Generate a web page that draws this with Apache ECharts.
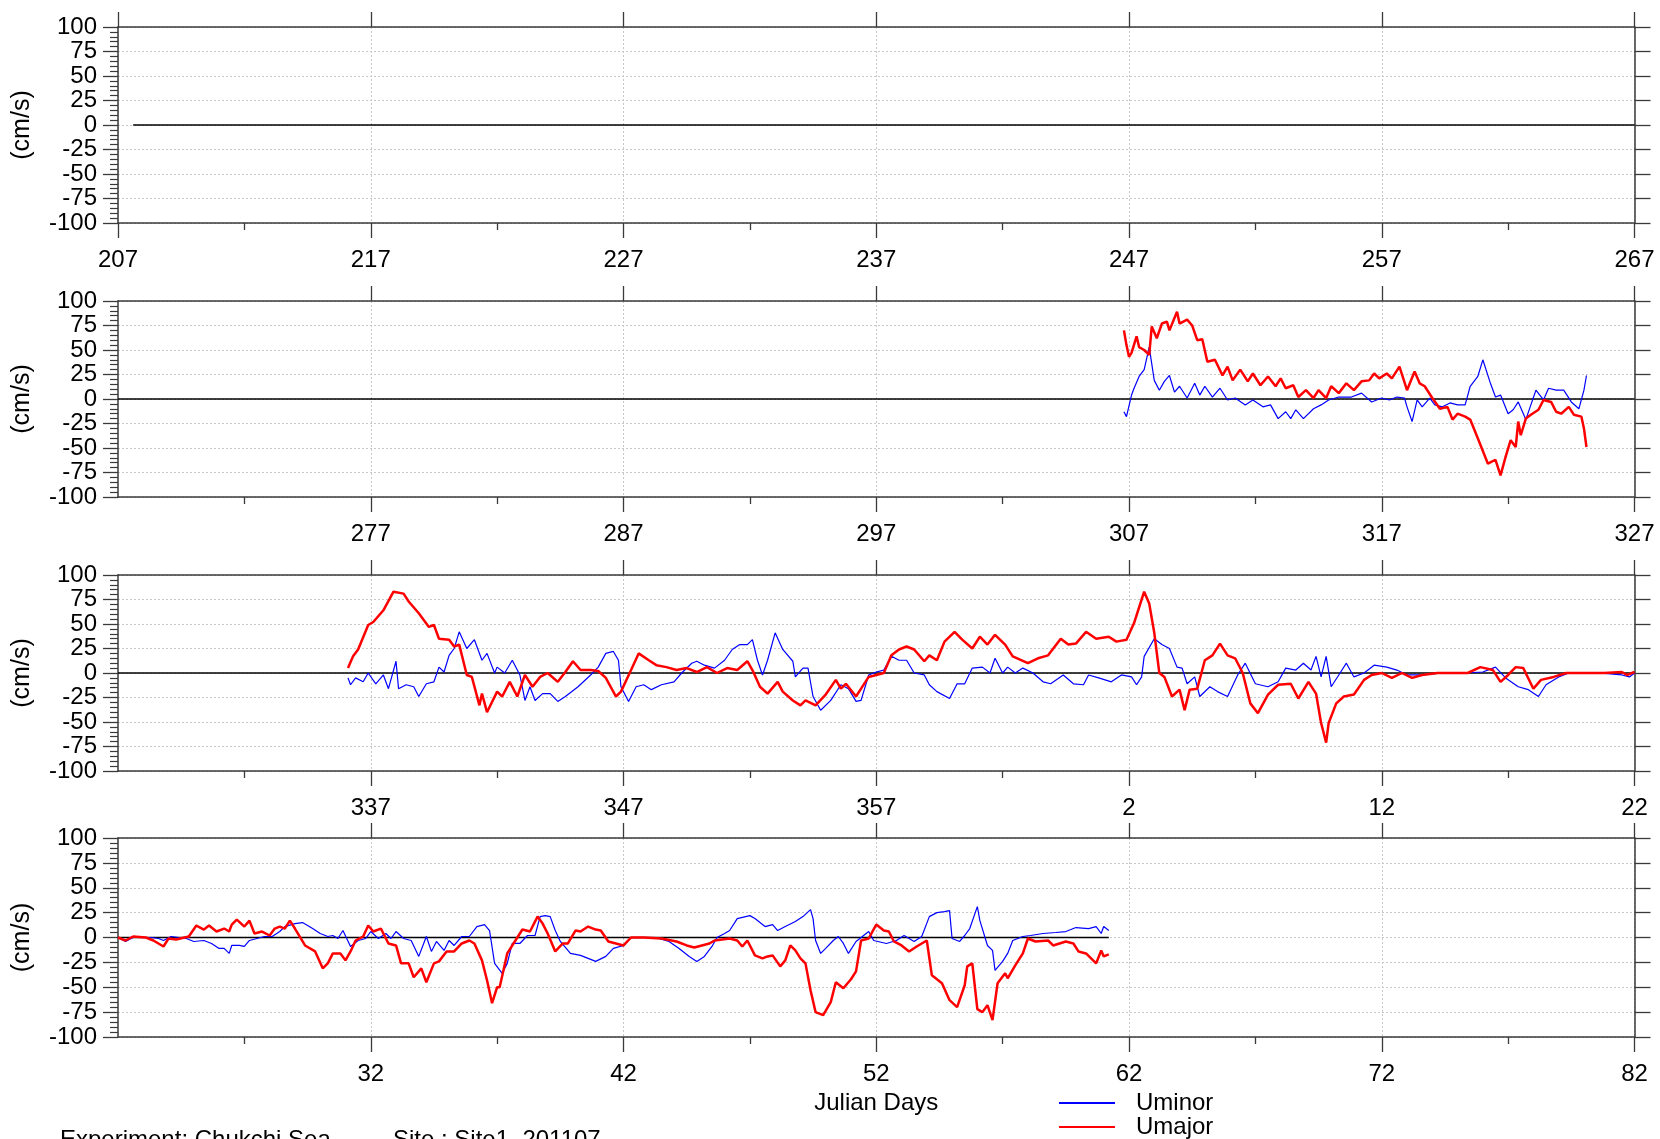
<!DOCTYPE html>
<html>
<head>
<meta charset="utf-8">
<script src="https://cdn.jsdelivr.net/npm/echarts@6/dist/echarts.min.js"></script>
<style>html,body{margin:0;padding:0;background:#fff}#chart{width:1660px;height:1139px}</style>
</head>
<body>
<div id="chart"></div>
<script>
// ---------- data ----------
// Panel start days (Julian day of the first year; panel 4 starts on day 22 of the next year)
const panelStartDays = [207, 267, 327, 22];
const panelYearOffset = [0, 0, 0, 365];
const panelSpanDays = 60;
const majorTickStep = 10;
const yTickStep = 25;
const yMin = -100, yMax = 100;
// zero reference line covers the deployment record
const zeroLineStartDay = 207.6;          // first year
const zeroLineEndDay = 61.2;             // next year
const yearLength = 365;
const seriesNames = ['Uminor', 'Umajor'];

// Panel 2 (days 267-327)
const uminorP2 = [[306.8,-13],[306.9,-18],[307.1,4],[307.2,11],[307.4,23],[307.6,30],[307.8,53],[308.0,19],[308.2,9],[308.4,18],[308.6,24],[308.8,7],[309.0,13],[309.3,1],[309.6,16],[309.8,4],[310.0,13],[310.3,2],[310.6,11],[310.9,-1],[311.2,1],[311.6,-6],[311.9,-1],[312.3,-8],[312.6,-6],[312.9,-20],[313.2,-13],[313.4,-20],[313.6,-11],[313.9,-20],[314.3,-10],[314.6,-6],[314.9,-1],[315.3,2],[315.8,2],[316.2,6],[316.6,-3],[317.0,1],[317.3,-1],[317.6,2],[317.9,1],[318.0,-8],[318.2,-23],[318.4,-1],[318.6,-8],[318.9,1],[319.1,-6],[319.4,-8],[319.7,-4],[320.0,-6],[320.3,-6],[320.5,13],[320.8,23],[321.0,40],[321.3,16],[321.5,2],[321.7,4],[322.0,-15],[322.2,-11],[322.4,-3],[322.7,-21],[322.9,-6],[323.1,9],[323.4,-1],[323.6,11],[323.9,9],[324.2,9],[324.5,-3],[324.8,-10],[325.0,9],[325.1,24]];
const umajorP2 = [[306.8,70],[306.9,55],[307.0,43],[307.1,47],[307.3,64],[307.4,53],[307.6,50],[307.8,45],[307.9,74],[308.1,62],[308.3,77],[308.5,79],[308.6,70],[308.9,89],[309.0,77],[309.3,81],[309.5,75],[309.7,60],[309.9,61],[310.1,38],[310.4,40],[310.7,24],[310.9,33],[311.1,19],[311.4,30],[311.7,18],[311.9,26],[312.2,14],[312.5,23],[312.8,13],[313.0,21],[313.2,11],[313.5,14],[313.7,2],[314.0,9],[314.3,1],[314.5,9],[314.8,1],[315.0,13],[315.3,6],[315.6,16],[315.9,9],[316.2,18],[316.5,19],[316.7,26],[316.9,21],[317.2,26],[317.4,21],[317.7,33],[318.0,9],[318.3,28],[318.5,16],[318.7,13],[319.0,1],[319.3,-10],[319.6,-8],[319.8,-21],[320.0,-15],[320.3,-18],[320.5,-21],[320.8,-40],[321.2,-66],[321.5,-62],[321.7,-78],[321.9,-59],[322.1,-42],[322.3,-49],[322.4,-23],[322.5,-37],[322.7,-20],[322.9,-16],[323.2,-11],[323.4,-1],[323.7,-3],[323.9,-13],[324.1,-15],[324.4,-8],[324.6,-16],[324.9,-18],[325.0,-30],[325.1,-49]];

// Panel 3 (days 327-387, continuing past 365)
const uminorP3 = [[336.1,-5],[336.2,-12],[336.4,-5],[336.7,-9],[336.9,0],[337.2,-11],[337.5,-2],[337.7,-16],[338.0,12],[338.1,-16],[338.4,-12],[338.7,-14],[338.9,-24],[339.2,-11],[339.5,-9],[339.7,6],[339.9,1],[340.1,18],[340.3,25],[340.5,42],[340.8,25],[341.1,34],[341.4,13],[341.6,20],[341.9,0],[342.0,6],[342.3,0],[342.6,13],[342.9,-2],[343.1,-28],[343.3,-14],[343.5,-28],[343.8,-21],[344.1,-21],[344.4,-29],[344.7,-24],[345.2,-14],[345.7,-2],[346.0,6],[346.3,20],[346.6,22],[346.8,13],[346.9,-14],[347.2,-29],[347.5,-14],[347.8,-12],[348.1,-17],[348.5,-12],[349.0,-9],[349.3,0],[349.7,10],[349.9,12],[350.2,8],[350.6,5],[351.0,13],[351.3,24],[351.6,29],[351.9,29],[352.1,34],[352.3,13],[352.5,-2],[352.7,13],[353.0,41],[353.3,24],[353.7,12],[353.8,-4],[354.1,5],[354.3,5],[354.5,-24],[354.8,-38],[355.2,-28],[355.6,-12],[355.9,-16],[356.2,-29],[356.4,-28],[356.7,-2],[357.0,1],[357.3,3],[357.6,17],[357.9,13],[358.2,13],[358.5,0],[358.9,-2],[359.1,-12],[359.4,-19],[359.9,-26],[360.2,-11],[360.5,-11],[360.8,5],[361.2,6],[361.5,0],[361.7,15],[362.0,0],[362.2,6],[362.5,0],[362.8,5],[363.2,0],[363.6,-9],[363.9,-11],[364.4,-2],[364.8,-11],[365.2,-12],[365.4,-2],[365.8,-5],[366.3,-9],[366.7,-2],[367.1,-4],[367.3,-12],[367.5,-4],[367.6,17],[368.0,35],[368.3,29],[368.6,25],[368.9,6],[369.1,5],[369.3,-11],[369.6,-4],[369.8,-24],[370.2,-14],[370.5,-19],[370.9,-24],[371.3,-2],[371.6,10],[372.0,-11],[372.5,-14],[372.9,-9],[373.2,5],[373.6,3],[373.9,10],[374.2,3],[374.4,17],[374.6,-4],[374.8,17],[375.0,-14],[375.3,-2],[375.6,10],[375.9,-4],[376.3,0],[376.7,8],[377.2,6],[377.6,3],[378.0,-2],[378.6,-2],[379.4,0],[380.2,0],[381.0,1],[381.5,6],[381.9,-5],[382.4,-14],[382.8,-17],[383.2,-24],[383.5,-12],[384.0,-4],[384.4,0],[385.6,0],[386.5,-2],[386.8,-4],[387.0,0]];
const umajorP3 = [[336.1,5],[336.3,17],[336.5,24],[336.9,49],[337.1,52],[337.5,64],[337.9,83],[338.3,81],[338.5,73],[338.9,61],[339.3,47],[339.5,49],[339.7,35],[340.1,34],[340.3,27],[340.5,29],[340.8,-2],[341.0,-4],[341.3,-33],[341.4,-21],[341.6,-40],[342.0,-19],[342.2,-24],[342.5,-9],[342.8,-24],[343.1,-2],[343.4,-14],[343.7,-4],[344.0,0],[344.4,-9],[344.7,1],[345.0,12],[345.3,3],[345.7,3],[346.0,2],[346.3,-5],[346.7,-24],[346.9,-19],[347.3,3],[347.6,20],[348.0,13],[348.3,8],[348.7,6],[349.1,3],[349.5,5],[349.9,1],[350.3,6],[350.7,0],[351.1,5],[351.5,3],[351.9,12],[352.1,3],[352.4,-14],[352.7,-21],[353.1,-9],[353.3,-19],[353.7,-28],[354.0,-33],[354.2,-28],[354.6,-33],[355.0,-22],[355.4,-7],[355.6,-16],[355.8,-11],[356.2,-24],[356.4,-16],[356.7,-4],[357.0,-2],[357.3,0],[357.6,18],[357.9,24],[358.2,27],[358.5,24],[358.9,12],[359.1,18],[359.4,13],[359.7,32],[360.1,42],[360.4,34],[360.8,25],[361.1,37],[361.4,29],[361.7,39],[362.1,29],[362.4,17],[363.0,10],[363.4,15],[363.8,18],[364.3,35],[364.6,29],[364.9,30],[365.3,42],[365.7,35],[366.2,37],[366.5,32],[366.9,34],[367.2,51],[367.5,75],[367.6,83],[367.8,71],[368.0,41],[368.2,0],[368.4,-4],[368.7,-24],[369.0,-17],[369.2,-38],[369.4,-17],[369.7,-16],[370.0,13],[370.3,18],[370.6,30],[370.9,18],[371.2,15],[371.5,0],[371.8,-31],[372.1,-41],[372.5,-22],[372.9,-12],[373.4,-11],[373.7,-26],[374.1,-9],[374.4,-21],[374.6,-51],[374.8,-71],[374.9,-51],[375.2,-31],[375.5,-24],[375.9,-22],[376.3,-7],[376.6,-2],[377.0,0],[377.4,-5],[377.8,0],[378.2,-5],[378.6,-2],[379.2,0],[379.8,0],[380.4,0],[380.9,6],[381.4,3],[381.7,-9],[382.0,-2],[382.3,6],[382.6,5],[383.0,-16],[383.3,-7],[383.8,-4],[384.3,0],[385.0,0],[385.8,0],[386.5,1],[386.7,-2],[387.0,1]];

// Panel 4 (days 22-82 of the next year)
const uminorP4 = [[22.0,0],[22.3,-4],[22.6,0],[23.3,0],[23.6,-1],[23.8,-3],[24.1,1],[24.7,-1],[25.0,-4],[25.4,-3],[25.7,-6],[26.0,-11],[26.2,-11],[26.4,-16],[26.5,-8],[26.8,-8],[27.0,-9],[27.2,-3],[27.5,-1],[27.8,1],[28.1,1],[28.4,6],[28.6,11],[29.0,14],[29.3,15],[29.7,9],[30.0,4],[30.3,1],[30.5,2],[30.7,-1],[30.9,7],[31.2,-9],[31.5,-3],[31.8,-1],[32.0,6],[32.3,-1],[32.6,4],[32.8,-1],[33.0,6],[33.3,-1],[33.6,-3],[33.9,-19],[34.2,1],[34.4,-14],[34.6,-4],[34.9,-13],[35.1,-3],[35.3,-8],[35.6,1],[35.9,1],[36.2,11],[36.5,13],[36.7,7],[36.9,-26],[37.2,-36],[37.4,-26],[37.6,-6],[37.9,-6],[38.2,2],[38.5,2],[38.7,21],[38.9,22],[39.1,21],[39.3,7],[39.5,-4],[39.9,-16],[40.3,-18],[40.6,-21],[40.9,-24],[41.3,-19],[41.6,-11],[42.0,-8],[42.3,0],[42.9,0],[43.4,-1],[43.8,-4],[44.2,-11],[44.6,-19],[44.9,-24],[45.2,-19],[45.5,-9],[45.7,0],[46.0,4],[46.2,7],[46.5,19],[47.0,22],[47.2,19],[47.6,11],[47.9,13],[48.1,7],[48.4,11],[48.8,16],[49.1,21],[49.4,28],[49.5,19],[49.6,-3],[49.8,-16],[50.0,-11],[50.3,-3],[50.5,1],[50.7,-6],[50.9,-16],[51.2,-4],[51.5,2],[51.7,6],[51.9,-3],[52.4,-6],[52.8,-3],[53.1,2],[53.5,-4],[53.8,1],[54.1,21],[54.4,25],[54.7,26],[54.9,27],[55.0,-1],[55.3,-4],[55.5,2],[55.7,9],[56.0,31],[56.1,17],[56.4,-8],[56.6,-13],[56.7,-33],[57.0,-24],[57.2,-16],[57.4,-3],[57.8,1],[58.1,2],[58.6,4],[59.1,5],[59.5,6],[59.9,10],[60.4,9],[60.7,11],[60.9,4],[61.0,11],[61.2,7]];
const umajorP4 = [[22.0,0],[22.3,-3],[22.6,1],[23.1,0],[23.4,-3],[23.8,-9],[24.0,-1],[24.3,-2],[24.8,1],[25.1,12],[25.4,8],[25.6,12],[25.9,6],[26.2,9],[26.4,6],[26.5,13],[26.7,18],[27.0,11],[27.2,17],[27.4,4],[27.7,6],[28.0,2],[28.2,9],[28.4,11],[28.6,9],[28.8,17],[29.0,9],[29.4,-8],[29.8,-14],[30.1,-31],[30.3,-26],[30.5,-16],[30.8,-16],[31.0,-23],[31.2,-14],[31.4,-3],[31.7,1],[31.9,12],[32.1,6],[32.4,9],[32.7,-6],[33.0,-8],[33.2,-26],[33.5,-26],[33.7,-40],[34.0,-31],[34.2,-45],[34.5,-26],[34.7,-24],[35.0,-14],[35.3,-14],[35.6,-6],[35.9,-3],[36.1,-6],[36.4,-23],[36.6,-43],[36.8,-66],[37.0,-50],[37.1,-50],[37.4,-16],[37.7,-4],[38.0,8],[38.3,6],[38.6,21],[38.8,14],[39.0,4],[39.3,-14],[39.6,-6],[39.8,-6],[40.1,7],[40.3,6],[40.6,11],[40.9,8],[41.1,7],[41.4,-4],[41.7,-6],[42.0,-8],[42.3,0],[42.8,0],[43.5,-1],[44.1,-4],[44.5,-8],[44.8,-10],[45.1,-8],[45.4,-6],[45.6,-3],[46.2,-1],[46.5,-3],[46.7,-9],[46.9,-3],[47.2,-18],[47.5,-21],[47.7,-19],[47.9,-18],[48.2,-29],[48.4,-23],[48.6,-8],[48.8,-13],[49.0,-21],[49.2,-26],[49.4,-53],[49.6,-75],[49.9,-78],[50.2,-65],[50.4,-45],[50.7,-51],[51.0,-42],[51.2,-34],[51.4,-3],[51.7,-1],[52.0,13],[52.3,7],[52.5,6],[52.7,-4],[53.0,-8],[53.3,-14],[53.6,-9],[54.0,-3],[54.2,-38],[54.6,-46],[54.9,-63],[55.2,-70],[55.5,-48],[55.6,-29],[55.8,-26],[56.0,-72],[56.2,-75],[56.4,-68],[56.6,-83],[56.8,-46],[57.1,-36],[57.2,-41],[57.5,-28],[57.8,-16],[58.0,-1],[58.3,-4],[58.8,-3],[59.0,-8],[59.5,-4],[59.8,-6],[60.0,-14],[60.3,-16],[60.7,-26],[60.9,-13],[61.0,-19],[61.2,-17]];

const panelMinor = [[], uminorP2, uminorP3, uminorP4];
const panelMajor = [[], umajorP2, umajorP3, umajorP4];

// ---------- layout / style ----------
const FONT = '"Liberation Sans", Arial, Helvetica, sans-serif';
const FS = 24;
const FSY = 24;
const gridLeft = 118, gridRight = 25.5;
const gridTops = [27, 301, 575, 838];
const gridHeights = [196, 196, 196, 199];
const xLabelMargin = 25;
const frameColor = '#3a3a3a';
const gridColor = '#c8c8c8';

const majorTicks = [];
for (let v = 0; v <= panelSpanDays; v += majorTickStep) majorTicks.push(v);
const minorTicks = [];
for (let v = majorTickStep / 2; v < panelSpanDays; v += majorTickStep) minorTicks.push(v);

const grid = [], xAxis = [], yAxis = [], series = [];

gridTops.forEach((top, p) => {
  grid.push({ left: gridLeft, right: gridRight, top: top, height: gridHeights[p] });
  const start = panelStartDays[p];
  const shownTicks = p === 0 ? majorTicks : majorTicks.filter(v => v > 0);
  const fmt = v => { let d = start + v; if (d > yearLength) d -= yearLength; return String(d); };
  const base = xAxis.length;
  // bottom axis: frame line, major ticks, labels, vertical grid
  xAxis.push({
    gridIndex: p, type: 'value', position: 'bottom', min: 0, max: panelSpanDays, interval: majorTickStep,
    axisLine: { show: true, onZero: false, lineStyle: { color: frameColor, width: 1.5 } },
    axisTick: { show: true, inside: false, length: 15, customValues: shownTicks, lineStyle: { color: frameColor, width: 1.3 } },
    axisLabel: { show: true, customValues: shownTicks, formatter: fmt, margin: xLabelMargin,
      showMinLabel: true, showMaxLabel: true,
      fontSize: FS, fontFamily: FONT, color: '#000' },
    splitLine: { show: true, lineStyle: { color: gridColor, type: [2, 2], width: 1 } },
    name: p === 3 ? 'Julian Days' : '', nameLocation: 'middle', nameGap: 54,
    nameTextStyle: { fontSize: FS, fontFamily: FONT, color: '#000' }
  });
  // bottom minor ticks
  xAxis.push({
    gridIndex: p, type: 'value', position: 'bottom', min: 0, max: panelSpanDays, interval: majorTickStep / 2,
    axisLine: { show: false, onZero: false },
    axisTick: { show: true, inside: false, length: 7, customValues: minorTicks, lineStyle: { color: frameColor, width: 1.3 } },
    axisLabel: { show: false }, splitLine: { show: false }
  });
  // top axis: frame line and major ticks
  xAxis.push({
    gridIndex: p, type: 'value', position: 'top', min: 0, max: panelSpanDays, interval: majorTickStep,
    axisLine: { show: true, onZero: false, lineStyle: { color: frameColor, width: 1.5 } },
    axisTick: { show: true, inside: false, length: 15, customValues: shownTicks, lineStyle: { color: frameColor, width: 1.3 } },
    axisLabel: { show: false }, splitLine: { show: false }
  });
  const yBase = yAxis.length;
  yAxis.push({
    gridIndex: p, type: 'value', position: 'left', min: yMin, max: yMax, interval: yTickStep,
    axisLine: { show: true, onZero: false, lineStyle: { color: frameColor, width: 1.5 } },
    axisTick: { show: true, inside: false, length: 15, lineStyle: { color: frameColor, width: 1.3 } },
    minorTick: { show: true, splitNumber: 5, length: 8, lineStyle: { color: frameColor, width: 1.2 } },
    axisLabel: { show: true, margin: 21, fontSize: FSY, fontFamily: FONT, color: '#000' },
    splitLine: { show: true, lineStyle: { color: gridColor, type: [2, 2], width: 1 } },
    name: '(cm/s)', nameLocation: 'middle', nameRotate: 90, nameGap: 83,
    nameTextStyle: { fontSize: 25, fontFamily: FONT, color: '#000' }
  });
  yAxis.push({
    gridIndex: p, type: 'value', position: 'right', min: yMin, max: yMax, interval: yTickStep,
    axisLine: { show: true, onZero: false, lineStyle: { color: frameColor, width: 1.5 } },
    axisTick: { show: true, inside: false, length: 16, lineStyle: { color: frameColor, width: 1.3 } },
    axisLabel: { show: false }, splitLine: { show: false }
  });
  // zero reference line over the record span
  const absStart = start + panelYearOffset[p];
  const zs = Math.max(absStart, zeroLineStartDay);
  const ze = Math.min(absStart + panelSpanDays, zeroLineEndDay + yearLength);
  series.push({
    type: 'line', xAxisIndex: base, yAxisIndex: yBase, silent: true, symbol: 'none', z: 1,
    lineStyle: { color: '#000', width: 1.5 }, data: [[zs - absStart, 0], [ze - absStart, 0]]
  });
  const shift = arr => arr.map(([d, v]) => [d + panelYearOffset[p] - absStart, v]);
  series.push({
    name: seriesNames[0], type: 'line', xAxisIndex: base, yAxisIndex: yBase, symbol: 'none', z: 2,
    color: '#0000ff', lineStyle: { color: '#0000ff', width: 1.2 }, data: shift(panelMinor[p])
  });
  series.push({
    name: seriesNames[1], type: 'line', xAxisIndex: base, yAxisIndex: yBase, symbol: 'none', z: 3,
    color: '#ff0000', lineStyle: { color: '#ff0000', width: 2.5 }, data: shift(panelMajor[p])
  });
});

const legendTops = [1091, 1115];
const legend = seriesNames.map((n, i) => ({
  data: [{ name: n, icon: 'rect' }],
  orient: 'vertical', left: 1059, top: legendTops[i], itemWidth: 56, itemHeight: 2, padding: 0,
  textStyle: { fontSize: FS, fontFamily: FONT, color: '#000', padding: [0, 0, 0, 16] },
  selectedMode: false
}));

const chart = echarts.init(document.getElementById('chart'), null, { renderer: 'canvas' });
chart.setOption({
  animation: false,
  backgroundColor: '#fff',
  textStyle: { fontFamily: FONT },
  grid, xAxis, yAxis, series, legend,
  graphic: [
    { type: 'text', left: 60, top: 1128, style: { text: 'Experiment: Chukchi Sea', font: FS + 'px ' + FONT, fill: '#000' } },
    { type: 'text', left: 393, top: 1128, style: { text: 'Site : Site1_201107', font: FS + 'px ' + FONT, fill: '#000' } }
  ]
});
</script>
</body>
</html>
